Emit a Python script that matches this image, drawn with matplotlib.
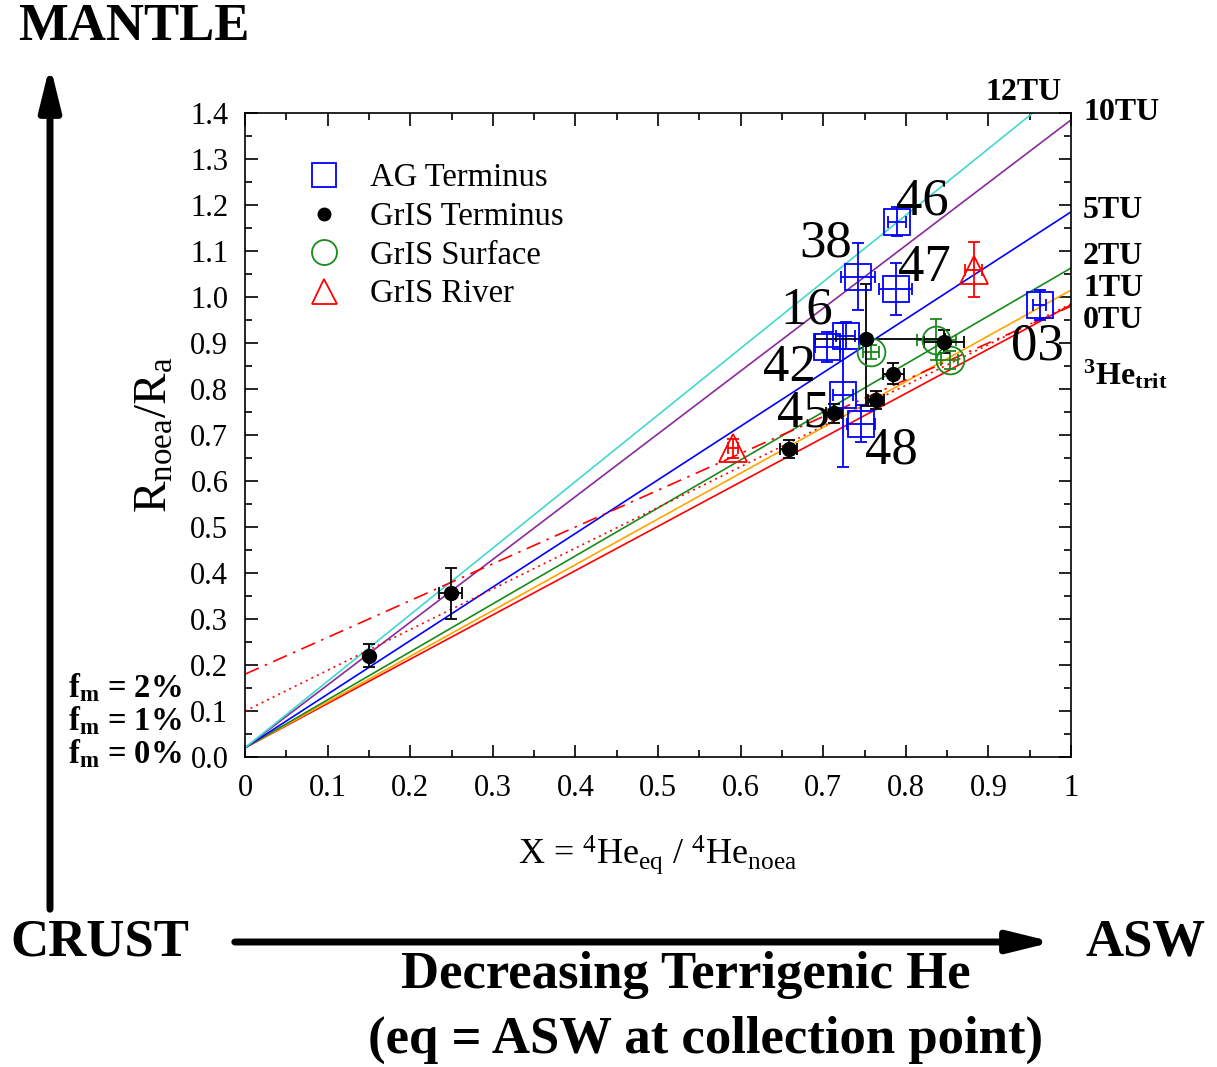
import numpy as np
import matplotlib
matplotlib.use('Agg')
import matplotlib.pyplot as plt
from matplotlib.lines import Line2D
from matplotlib.patches import FancyArrowPatch

plt.rcParams['font.family'] = ['Liberation Serif', 'DejaVu Serif']
plt.rcParams['mathtext.fontset'] = 'custom'
plt.rcParams['mathtext.rm'] = 'Liberation Serif'
plt.rcParams['mathtext.it'] = 'Liberation Serif:italic'
plt.rcParams['mathtext.bf'] = 'Liberation Serif:bold'

# tritium evolution lines: start at x=0, end at x=1
tu_labels = ['0TU', '1TU', '2TU', '5TU', '10TU', '12TU']
tu_y0 = 0.02
tu_y1 = [0.983, 1.015, 1.063, 1.185, 1.385, 1.467]
tu_colors = ['red', 'orange', '#1a8a1a', 'blue', '#8a2a9a', '#40d8d0']

# mantle fraction mixing lines
fm_labels = ['f$_\\mathbf{m}$ = 2%', 'f$_\\mathbf{m}$ = 1%', 'f$_\\mathbf{m}$ = 0%']
fm_y0 = [0.18, 0.10]
fm_y1 = [0.98, 0.985]
fm_styles = [(0, (9, 4, 1.5, 4)), (0, (1.2, 2.5))]

# AG Terminus
ag_x = [0.789, 0.742, 0.788, 0.962, 0.705, 0.727, 0.724, 0.746]
ag_y = [1.164, 1.044, 1.017, 0.983, 0.892, 0.916, 0.787, 0.725]
ag_xe = [0.011, 0.021, 0.020, 0.008, 0.015, 0.012, 0.012, 0.017]
ag_ye = [0.031, 0.073, 0.057, 0.033, 0.033, 0.030, 0.157, 0.040]

# GrIS Terminus
gt_x = [0.150, 0.249, 0.658, 0.713, 0.764, 0.785, 0.752, 0.846]
gt_y = [0.220, 0.356, 0.669, 0.747, 0.776, 0.833, 0.908, 0.903]
gt_xe_lo = [0.003, 0.014, 0.010, 0.010, 0.010, 0.013, 0.062, 0.024]
gt_xe_hi = [0.003, 0.014, 0.010, 0.010, 0.010, 0.013, 0.095, 0.024]
gt_ye_lo = [0.025, 0.055, 0.020, 0.020, 0.020, 0.023, 0.146, 0.025]
gt_ye_hi = [0.025, 0.055, 0.020, 0.020, 0.020, 0.023, 0.120, 0.025]

# GrIS Surface
gs_x = [0.758, 0.837, 0.853]
gs_y = [0.881, 0.907, 0.863]
gs_xe = [0.010, 0.024, 0.010]
gs_ye = [0.015, 0.045, 0.020]

# GrIS River
gr_x = [0.591, 0.882]
gr_y = [0.671, 1.059]
gr_xe = [0.006, 0.010]
gr_ye = [0.020, 0.060]

# sample labels (centre positions)
lab_text = ['46', '38', '47', '03', '16', '42', '45', '48']
lab_x = [0.820, 0.703, 0.822, 0.959, 0.680, 0.659, 0.676, 0.783]
lab_y = [1.207, 1.117, 1.063, 0.893, 0.970, 0.846, 0.746, 0.667]

fig = plt.figure(figsize=(12.17, 10.67), dpi=100)
ax = fig.add_axes([245/1217, 1-757/1067, (1071-245)/1217, (757-113)/1067])

xx = np.array([0.0, 1.0])
for lab, y1, c in zip(tu_labels, tu_y1, tu_colors):
    ax.plot(xx, [tu_y0, y1], color=c, lw=1.2)
for y0, y1, ls in zip(fm_y0, fm_y1, fm_styles):
    ax.plot(xx, [y0, y1], color='red', lw=1.2, linestyle=ls)

ekw = dict(elinewidth=1.3, capsize=4, capthick=1.3, linestyle='none')
ax.errorbar(ag_x, ag_y, xerr=ag_xe, yerr=ag_ye, marker='s', ms=19, mfc='none',
            mec='blue', mew=1.3, ecolor='blue', **ekw)
ax.errorbar(gs_x, gs_y, xerr=gs_xe, yerr=gs_ye, marker='o', ms=20, mfc='none',
            mec='#1a8a1a', mew=1.3, ecolor='#1a8a1a', **ekw)
ax.errorbar(gr_x, gr_y, xerr=gr_xe, yerr=gr_ye, marker='^', ms=20, mfc='none',
            mec='red', mew=1.3, ecolor='red', **ekw)
ax.errorbar(gt_x, gt_y, xerr=[gt_xe_lo, gt_xe_hi], yerr=[gt_ye_lo, gt_ye_hi],
            marker='o', ms=10, mfc='black', mec='black', ecolor='black', **ekw)

for t, x, y in zip(lab_text, lab_x, lab_y):
    ax.text(x, y, t, fontsize=38, ha='center', va='center')

ax.set_xlim(0, 1)
ax.set_ylim(0, 1.4)
ax.set_xticks(np.arange(0, 1.01, 0.1))
ax.set_xticklabels(['0'] + ['%.1f' % v for v in np.arange(0.1, 0.95, 0.1)] + ['1'])
ax.set_xticks(np.arange(0.05, 1.0, 0.1), minor=True)
ax.set_yticks(np.arange(0, 1.41, 0.1))
ax.set_yticks(np.arange(0.05, 1.4, 0.1), minor=True)
ax.tick_params(which='both', direction='in', top=True, right=True, labelsize=22, width=1.2)
ax.tick_params(which='major', length=9, pad=12)
ax.tick_params(which='minor', length=5)
for s in ax.spines.values():
    s.set_linewidth(1.2)

ax.set_ylabel(r'R$_{\mathrm{noea}}$/R$_{\mathrm{a}}$', fontsize=34, labelpad=10)
ax.set_xlabel(r'X = $^{4}$He$_{\mathrm{eq}}$ / $^{4}$He$_{\mathrm{noea}}$', fontsize=26, labelpad=22)

handles = [
    Line2D([], [], marker='s', ms=17, mfc='none', mec='blue', mew=1.3, ls='none'),
    Line2D([], [], marker='o', ms=9, mfc='black', mec='black', ls='none'),
    Line2D([], [], marker='o', ms=18, mfc='none', mec='#1a8a1a', mew=1.3, ls='none'),
    Line2D([], [], marker='^', ms=18, mfc='none', mec='red', mew=1.3, ls='none'),
]
ax.legend(handles, ['AG Terminus', 'GrIS Terminus', 'GrIS Surface', 'GrIS River'],
          loc='upper left', bbox_to_anchor=(0.029, 0.968), frameon=False, fontsize=23.5,
          handletextpad=0.6, labelspacing=0.25, handlelength=1.6)

# right-side tritium labels
rl_text = ['12TU', '10TU', '5TU', '2TU', '1TU', '0TU', r'$^{\mathbf{3}}$He$_{\mathbf{trit}}$']
rl_x = [985, 1083, 1083, 1083, 1083, 1083, 1083]
rl_y = [92, 112, 210, 256, 288, 321, 375]
for t, x, y in zip(rl_text, rl_x, rl_y):
    fig.text(x/1217, 1-y/1067, t, fontsize=23, fontweight='bold', ha='left', va='center')

# left-side mantle fraction labels
for i, t in enumerate(fm_labels):
    fig.text(68/1217, 1-(688+i*33)/1067, t, fontsize=23.5, fontweight='bold', ha='left', va='center')

# outer annotations
big = dict(fontsize=38, fontweight='bold', va='center')
fig.text(18/1217, 1-27/1067, 'MANTLE', ha='left', **big)
fig.text(10/1217, 1-942/1067, 'CRUST', ha='left', **big)
fig.text(1085/1217, 1-942/1067, 'ASW', ha='left', **big)
fig.text(686/1217, 1-975/1067, 'Decreasing Terrigenic He', ha='center', **big)
fig.text(706/1217, 1-1040/1067, '(eq = ASW at collection point)', ha='center', **big)

astyle = '-|>,head_length=1.3,head_width=0.32'
fig.add_artist(FancyArrowPatch(
    (50/1217, 1-912/1067), (50/1217, 1-62/1067), transform=fig.transFigure,
    arrowstyle=astyle, mutation_scale=20, lw=5, color='black'))
fig.add_artist(FancyArrowPatch(
    (232/1217, 1-942/1067), (1056/1217, 1-942/1067), transform=fig.transFigure,
    arrowstyle=astyle, mutation_scale=20, lw=5, color='black'))

fig.savefig('out.png', dpi=100)
